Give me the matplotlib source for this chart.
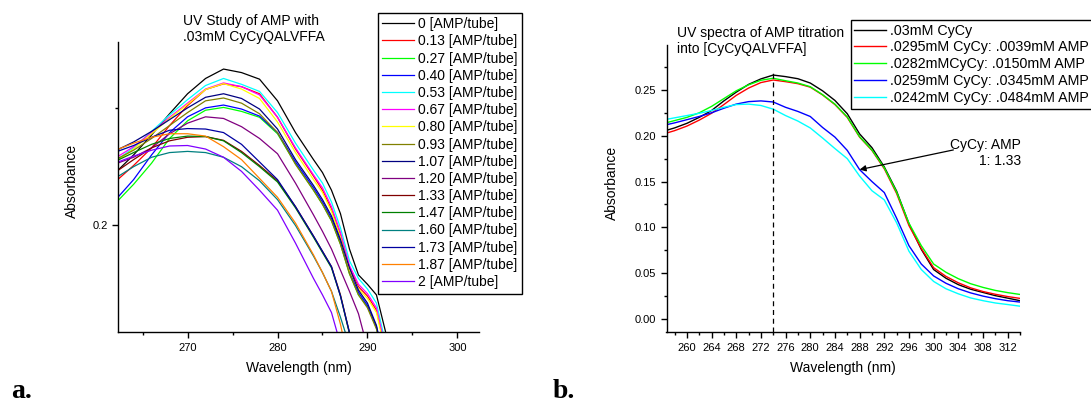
import matplotlib
matplotlib.use("Agg")
import matplotlib.pyplot as plt
from matplotlib.ticker import MultipleLocator, FormatStrFormatter

plt.rcParams['font.family'] = ['Liberation Sans', 'DejaVu Sans']

# ---- panel a: UV study of AMP with .03mM CyCyQALVFFA ----
wl_a = [262, 264, 266, 268, 270, 272, 274, 276, 278, 280, 282,
        284, 285, 286, 287, 288, 289, 290, 291, 292, 293]

amp_000 = [0.2225, 0.2300, 0.2385, 0.2475, 0.2560, 0.2625, 0.2665, 0.2650, 0.2622, 0.2530, 0.2395,
           0.2280, 0.2225, 0.2150, 0.2050, 0.1900, 0.1790, 0.1750, 0.1705, 0.1550, 0.1350]
amp_013 = [0.2187, 0.2255, 0.2330, 0.2425, 0.2510, 0.2578, 0.2602, 0.2590, 0.2560, 0.2460, 0.2325,
           0.2210, 0.2150, 0.2070, 0.1960, 0.1820, 0.1740, 0.1700, 0.1640, 0.1470, 0.1270]
amp_027 = [0.2095, 0.2175, 0.2265, 0.2370, 0.2445, 0.2490, 0.2502, 0.2485, 0.2460, 0.2390, 0.2262,
           0.2150, 0.2090, 0.2020, 0.1920, 0.1795, 0.1705, 0.1655, 0.1565, 0.1385, 0.1190]
amp_040 = [0.2109, 0.2195, 0.2300, 0.2395, 0.2462, 0.2500, 0.2512, 0.2495, 0.2465, 0.2395, 0.2270,
           0.2160, 0.2100, 0.2030, 0.1930, 0.1805, 0.1715, 0.1660, 0.1570, 0.1390, 0.1190]
amp_053 = [0.2275, 0.2330, 0.2400, 0.2470, 0.2535, 0.2595, 0.2625, 0.2600, 0.2570, 0.2480, 0.2350,
           0.2235, 0.2180, 0.2100, 0.1990, 0.1850, 0.1775, 0.1730, 0.1670, 0.1500, 0.1300]
amp_067 = [0.2287, 0.2335, 0.2395, 0.2460, 0.2520, 0.2580, 0.2606, 0.2590, 0.2555, 0.2460, 0.2330,
           0.2215, 0.2160, 0.2080, 0.1970, 0.1830, 0.1750, 0.1710, 0.1650, 0.1480, 0.1280]
amp_080 = [0.2270, 0.2325, 0.2390, 0.2455, 0.2515, 0.2578, 0.2603, 0.2580, 0.2540, 0.2440, 0.2310,
           0.2195, 0.2140, 0.2060, 0.1950, 0.1810, 0.1730, 0.1690, 0.1630, 0.1460, 0.1260]
amp_093 = [0.2280, 0.2320, 0.2370, 0.2425, 0.2480, 0.2530, 0.2542, 0.2520, 0.2475, 0.2395, 0.2260,
           0.2150, 0.2090, 0.2020, 0.1920, 0.1795, 0.1705, 0.1650, 0.1560, 0.1380, 0.1180]
amp_107 = [0.2318, 0.2355, 0.2400, 0.2450, 0.2500, 0.2545, 0.2560, 0.2540, 0.2495, 0.2410, 0.2280,
           0.2170, 0.2110, 0.2040, 0.1940, 0.1820, 0.1725, 0.1670, 0.1575, 0.1395, 0.1200]
amp_120 = [0.2262, 0.2290, 0.2330, 0.2390, 0.2435, 0.2462, 0.2455, 0.2420, 0.2370, 0.2305, 0.2180,
           0.2045, 0.1975, 0.1900, 0.1810, 0.1720, 0.1625, 0.1480, 0.1300, 0.1100, 0.0900]
amp_133 = [0.2227, 0.2280, 0.2330, 0.2360, 0.2375, 0.2378, 0.2362, 0.2315, 0.2255, 0.2190, 0.2080,
           0.1955, 0.1890, 0.1825, 0.1705, 0.1545, 0.1370, 0.1200, 0.1000, 0.0800, 0.0600]
amp_147 = [0.2273, 0.2310, 0.2345, 0.2370, 0.2380, 0.2378, 0.2360, 0.2310, 0.2250, 0.2185, 0.2075,
           0.1950, 0.1885, 0.1820, 0.1700, 0.1540, 0.1370, 0.1200, 0.1000, 0.0800, 0.0600]
amp_160 = [0.2202, 0.2250, 0.2290, 0.2310, 0.2315, 0.2310, 0.2290, 0.2250, 0.2190, 0.2110, 0.2000,
           0.1870, 0.1800, 0.1720, 0.1610, 0.1490, 0.1310, 0.1150, 0.0950, 0.0750, 0.0550]
amp_173 = [0.2312, 0.2340, 0.2375, 0.2405, 0.2412, 0.2410, 0.2395, 0.2345, 0.2270, 0.2195, 0.2080,
           0.1955, 0.1890, 0.1825, 0.1700, 0.1545, 0.1380, 0.1200, 0.1000, 0.0800, 0.0600]
amp_187 = [0.2320, 0.2350, 0.2375, 0.2390, 0.2390, 0.2380, 0.2335, 0.2280, 0.2200, 0.2120, 0.2010,
           0.1875, 0.1800, 0.1720, 0.1580, 0.1400, 0.1220, 0.1050, 0.0850, 0.0650, 0.0450]
amp_200 = [0.2266, 0.2295, 0.2320, 0.2338, 0.2340, 0.2325, 0.2290, 0.2230, 0.2150, 0.2065, 0.1925,
           0.1775, 0.1705, 0.1630, 0.1495, 0.1300, 0.1120, 0.0950, 0.0750, 0.0550, 0.0350]

series_a = [amp_000, amp_013, amp_027, amp_040, amp_053, amp_067, amp_080, amp_093,
            amp_107, amp_120, amp_133, amp_147, amp_160, amp_173, amp_187, amp_200]
labels_a = ["0 [AMP/tube]", "0.13 [AMP/tube]", "0.27 [AMP/tube]", "0.40 [AMP/tube]",
            "0.53 [AMP/tube]", "0.67 [AMP/tube]", "0.80 [AMP/tube]", "0.93 [AMP/tube]",
            "1.07 [AMP/tube]", "1.20 [AMP/tube]", "1.33 [AMP/tube]", "1.47 [AMP/tube]",
            "1.60 [AMP/tube]", "1.73 [AMP/tube]", "1.87 [AMP/tube]", "2 [AMP/tube]"]
colors_a = ['#000000', '#FF0000', '#00FF00', '#0000FF', '#00FFFF', '#FF00FF', '#FFFF00', '#808000',
            '#000080', '#800080', '#800000', '#008000', '#008080', '#0000A0', '#FF8000', '#8000FF']

# ---- panel b: UV spectra of AMP titration into [CyCyQALVFFA] ----
wl_b = [256, 258, 260, 262, 264, 266, 268, 270, 272, 274,
        276, 278, 280, 282, 284, 286, 288, 290, 292, 294,
        296, 298, 300, 302, 304, 306, 308, 310, 312, 314]

cycy_only = [0.2045, 0.2085, 0.2135, 0.2200, 0.2275, 0.2380, 0.2475, 0.2560, 0.2620, 0.2662,
             0.2645, 0.2622, 0.2575, 0.2490, 0.2385, 0.2240, 0.2020, 0.1870, 0.1660, 0.1395,
             0.1040, 0.0760, 0.0540, 0.0445, 0.0375, 0.0325, 0.0290, 0.0255, 0.0228, 0.0200]
amp_0039 = [0.2015, 0.2055, 0.2105, 0.2170, 0.2245, 0.2340, 0.2440, 0.2520, 0.2580, 0.2608,
            0.2590, 0.2568, 0.2530, 0.2445, 0.2340, 0.2200, 0.1985, 0.1840, 0.1640, 0.1370,
            0.1020, 0.0770, 0.0560, 0.0465, 0.0395, 0.0340, 0.0300, 0.0270, 0.0245, 0.0225]
amp_0150 = [0.2130, 0.2165, 0.2200, 0.2250, 0.2320, 0.2405, 0.2490, 0.2555, 0.2605, 0.2627,
            0.2600, 0.2575, 0.2535, 0.2448, 0.2345, 0.2205, 0.1990, 0.1845, 0.1650, 0.1385,
            0.1045, 0.0800, 0.0600, 0.0510, 0.0440, 0.0385, 0.0345, 0.0312, 0.0288, 0.0268]
amp_0345 = [0.2110, 0.2140, 0.2175, 0.2210, 0.2250, 0.2300, 0.2345, 0.2372, 0.2380, 0.2368,
            0.2310, 0.2265, 0.2210, 0.2090, 0.1985, 0.1840, 0.1630, 0.1500, 0.1380, 0.1100,
            0.0800, 0.0600, 0.0470, 0.0390, 0.0330, 0.0285, 0.0250, 0.0222, 0.0200, 0.0185]
amp_0484 = [0.2170, 0.2195, 0.2220, 0.2245, 0.2275, 0.2310, 0.2340, 0.2345, 0.2330, 0.2290,
            0.2220, 0.2160, 0.2085, 0.1975, 0.1860, 0.1750, 0.1560, 0.1400, 0.1300, 0.1050,
            0.0740, 0.0540, 0.0410, 0.0330, 0.0275, 0.0230, 0.0200, 0.0175, 0.0158, 0.0140]

series_b = [cycy_only, amp_0039, amp_0150, amp_0345, amp_0484]
labels_b = [".03mM CyCy", ".0295mM CyCy: .0039mM AMP", ".0282mMCyCy: .0150mM AMP",
            ".0259mM CyCy: .0345mM AMP", ".0242mM CyCy: .0484mM AMP"]
colors_b = ['#000000', '#FF0000', '#00FF00', '#0000FF', '#00FFFF']

W, H = 1091, 404
fig = plt.figure(figsize=(W / 100, H / 100), dpi=100)


def px_axes(left, top, right, bottom):
    return fig.add_axes([left / W, 1 - bottom / H, (right - left) / W, (bottom - top) / H])


def style(ax):
    for s in ('top', 'right'):
        ax.spines[s].set_visible(False)
    for s in ('left', 'bottom'):
        ax.spines[s].set_linewidth(1.0)
    ax.tick_params(which='both', direction='out', labelsize=8, width=1.0, colors='black')
    ax.tick_params(which='major', length=4.5, pad=3)
    ax.tick_params(which='minor', length=2.5)


# panel a
ax_a = px_axes(118.3, 42, 479, 332.3)
style(ax_a)
for vals, lab, col in zip(series_a, labels_a, colors_a):
    ax_a.plot(wl_a, vals, color=col, lw=0.9, label=lab)
ax_a.set_xlim(262.3, 302.4)
ax_a.set_ylim(0.1546, 0.278)
ax_a.xaxis.set_major_locator(MultipleLocator(10))
ax_a.xaxis.set_minor_locator(MultipleLocator(5))
ax_a.yaxis.set_major_locator(MultipleLocator(0.1))
ax_a.yaxis.set_minor_locator(MultipleLocator(0.05))
ax_a.yaxis.set_major_formatter(FormatStrFormatter('%.1f'))
ax_a.set_xlabel("Wavelength (nm)", fontsize=10)
ax_a.set_ylabel("Absorbance", fontsize=10)
ax_a.xaxis.set_label_coords(0.5, -0.1)
ax_a.yaxis.set_label_coords(-0.11, 0.52)
leg_a = ax_a.legend(loc='upper left', bbox_to_anchor=(377.7 / W, 1 - 12.7 / H),
                    bbox_transform=fig.transFigure, borderaxespad=0, fontsize=10,
                    handlelength=2.3, handletextpad=0.25, labelspacing=0.23, borderpad=0.32,
                    fancybox=False, edgecolor='black', framealpha=1)
leg_a.get_frame().set_linewidth(1.0)
fig.text(183 / W, 1 - 14 / H, "UV Study of AMP with\n.03mM CyCyQALVFFA",
         ha='left', va='top', fontsize=10, linespacing=1.15)

# panel b
ax_b = px_axes(666.5, 45, 1020, 332.3)
style(ax_b)
for vals, lab, col in zip(series_b, labels_b, colors_b):
    ax_b.plot(wl_b, vals, color=col, lw=1.0, label=lab)
ax_b.set_xlim(256.7, 314)
ax_b.set_ylim(-0.0145, 0.299)
ax_b.xaxis.set_major_locator(MultipleLocator(4))
ax_b.xaxis.set_minor_locator(MultipleLocator(2))
ax_b.yaxis.set_major_locator(MultipleLocator(0.05))
ax_b.yaxis.set_minor_locator(MultipleLocator(0.025))
ax_b.yaxis.set_major_formatter(FormatStrFormatter('%.2f'))
ax_b.set_xlabel("Wavelength (nm)", fontsize=10)
ax_b.set_ylabel("Absorbance", fontsize=10)
ax_b.xaxis.set_label_coords(0.5, -0.1)
ax_b.yaxis.set_label_coords(-0.135, 0.52)

# dashed marker at the peak of the CyCy-only spectrum
peak_i = cycy_only.index(max(cycy_only))
ax_b.vlines(wl_b[peak_i], -0.0145, cycy_only[peak_i] + 0.002, colors='black',
            linestyles=(0, (4, 3)), lw=0.9)

# arrow pointing at the 1:1.33 spectrum
tip_i = wl_b.index(288)
ax_b.annotate('', xy=(wl_b[tip_i], amp_0345[tip_i]), xytext=(303.2, 0.1845),
              arrowprops=dict(arrowstyle='-|>', color='black', lw=0.9, mutation_scale=9,
                              shrinkA=0, shrinkB=0))
ax_b.text(314.2, 0.1814, "CyCy: AMP\n1: 1.33", ha='right', va='center', fontsize=10,
          multialignment='right', linespacing=1.15)

leg_b = ax_b.legend(loc='upper left', bbox_to_anchor=(850.7 / W, 1 - 20 / H),
                    bbox_transform=fig.transFigure, borderaxespad=0, fontsize=10.3,
                    handlelength=2.25, handletextpad=0.25, labelspacing=0.2, borderpad=0.25,
                    fancybox=False, edgecolor='black', framealpha=1)
leg_b.get_frame().set_linewidth(1.0)
fig.text(677.3 / W, 1 - 26 / H, "UV spectra of AMP titration\ninto [CyCyQALVFFA]",
         ha='left', va='top', fontsize=10, linespacing=1.15)

# panel letters
fig.text(11 / W, 1 - 398 / H, "a.", fontsize=20, fontweight='bold',
         family=['Liberation Serif', 'DejaVu Serif'], va='baseline')
fig.text(553 / W, 1 - 398 / H, "b.", fontsize=20, fontweight='bold',
         family=['Liberation Serif', 'DejaVu Serif'], va='baseline')

fig.savefig("out.png", dpi=100)
